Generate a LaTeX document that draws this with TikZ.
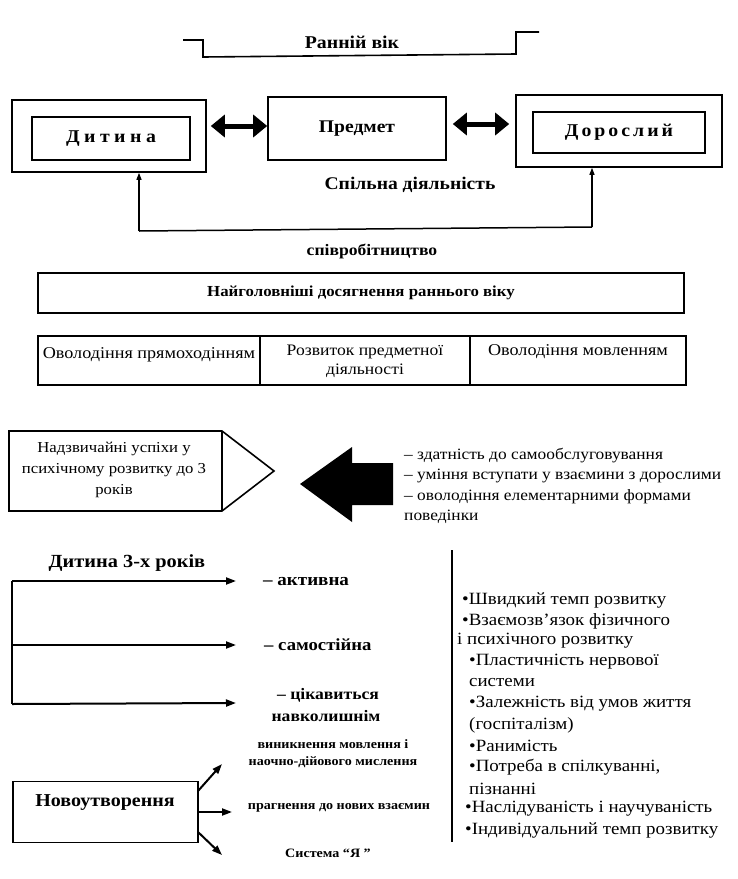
\documentclass[tikz,border=0pt]{standalone}
\usepackage{fontspec}
\setmainfont{Liberation Serif}[FakeStretch=1.1]
\usetikzlibrary{arrows.meta}
\newcommand{\ls}{\hspace{4.5pt}}
\newcommand{\lsb}{\hspace{3pt}}
\begin{document}
\begin{tikzpicture}[x=1pt,y=-1pt,
  box/.style={draw, line width=1.6pt, inner sep=0pt},
  bigarrow/.style={line width=5pt, {Triangle[length=14pt,width=22pt]}-{Triangle[length=14pt,width=22pt]}},
  thinarrow/.style={line width=1.3pt, -{Triangle[length=7pt,width=5pt]}},
  brarrow/.style={line width=2pt, -{Triangle[length=10pt,width=7pt]}},
  txt/.style={inner sep=0pt, align=center}]
\useasboundingbox (0,0) rectangle (738,879);

% bracket + title
\coordinate (b1) at (183,40);
\coordinate (b2) at (203,40);
\coordinate (b3) at (203,57);
\coordinate (b4) at (516,54);
\coordinate (b5) at (516,32);
\coordinate (b6) at (539,32);
\draw[line width=1.6pt] (b1) -- (b2) -- (b3) -- (b4) -- (b5) -- (b6);
\node[txt, font=\fontsize{18}{20}\selectfont\bfseries] (title) at (352,42) {Ранній вік};

% top row
\node[box, minimum width=194pt, minimum height=72pt] (ditout) at (109,136) {};
\node[box, minimum width=158pt, minimum height=43pt, font=\fontsize{18}{19}\selectfont\bfseries] (dit) at (111,138.5) {Д\ls и\ls т\ls и\ls н\ls а};
\node[box, minimum width=178pt, minimum height=63pt, font=\fontsize{17.8}{20}\selectfont\bfseries] (pred) at (357,128.5) {Предмет};
\node[box, minimum width=206pt, minimum height=72pt] (dorout) at (619,131) {};
\node[box, minimum width=172pt, minimum height=41pt, font=\fontsize{18}{19}\selectfont\bfseries] (dor) at (619,132.5) {Д\lsb о\lsb р\lsb о\lsb с\lsb л\lsb и\lsb й};
\draw[bigarrow, shorten <=4pt] (ditout.east |- 0,126) -- (pred.west |- 0,126);
\draw[bigarrow, shorten <=6pt, shorten >=6pt] (pred.east |- 0,124) -- (dorout.west |- 0,124);
\node[txt, font=\fontsize{17.8}{20}\selectfont\bfseries] (spil) at (410,185) {Спільна діяльність};

\coordinate (c1) at (139,231);
\coordinate (c2) at (592,227);
\draw[line width=1.5pt] (c1) -- (c2);
\draw[thinarrow] (c1) -- (c1 |- ditout.south);
\draw[thinarrow] (c2) -- (c2 |- dorout.south);
\node[txt, font=\fontsize{16}{18}\selectfont\bfseries] (spivr) at (372,251) {співробітництво};

% achievements
\node[box, minimum width=646pt, minimum height=40pt, font=\fontsize{15.3}{17}\selectfont\bfseries] (main) at (361,293) {Найголовніші досягнення раннього віку};
\node[box, minimum width=222pt, minimum height=49pt] (cell1) at (149,360.5) {};
\node[box, minimum width=210pt, minimum height=49pt] (cell2) at (365,360.5) {};
\node[box, minimum width=216pt, minimum height=49pt] (cell3) at (578,360.5) {};
\node[txt, font=\fontsize{16.5}{19}\selectfont] (t1) at (149,355) {Оволодіння прямоходінням};
\node[txt, font=\fontsize{16}{19}\selectfont] (t2) at (365,361) {Розвиток предметної\\діяльності};
\node[txt, font=\fontsize{16.5}{19}\selectfont] (t3) at (578,352) {Оволодіння мовленням};

% pentagon
\node[txt, font=\fontsize{15.2}{21}\selectfont] (pent) at (114,470) {Надзвичайні успіхи у\\психічному розвитку до 3\\років};
\draw[line width=1.6pt] (9,431) -- (222,431) -- (274,471) -- (222,511) -- (9,511) -- cycle;
\draw[line width=1.6pt] (222,431) -- (222,511);

% big black arrow
\node[txt, align=left, anchor=west, font=\fontsize{15.8}{20.3}\selectfont] (list) at (404,486) {– здатність до самообслуговування\\– уміння вступати у взаємини з дорослими\\– оволодіння елементарними формами\\поведінки};
\fill (300,484) -- (352,447) -- (352,463) -- (393,463) -- (393,505) -- (352,505) -- (352,522) -- cycle;

% child of 3 years
\node[txt, font=\fontsize{18.5}{20}\selectfont\bfseries] (d3) at (127,563) {Дитина 3-х років};
\coordinate (v1) at (12,581);
\coordinate (v2) at (12,645);
\coordinate (v3) at (12,704);
\draw[line width=2pt] (v1) -- (v3);
\node[txt, anchor=west, font=\fontsize{17.3}{18}\selectfont\bfseries] (akt) at (263,582) {– активна};
\node[txt, anchor=west, font=\fontsize{17}{18}\selectfont\bfseries] (sam) at (264,645) {– самостійна};
\node[txt, font=\fontsize{16}{22}\selectfont\bfseries] (cik) at (326,705) {\hspace*{4pt}– цікавиться\\навколишнім};
\draw[brarrow] (v1) -- (236,581);
\draw[brarrow] (v2) -- (236,645);
\draw[brarrow] (v3) -- (236,703);

% vertical separator
\coordinate (s1) at (452,550);
\coordinate (s2) at (452,842);
\draw[line width=2.5pt] (s1) -- (s2);

% right list
\begin{scope}[every node/.style={txt, anchor=west, font=\fontsize{17.2}{18}\selectfont}]
\node (r1) at (462,600) {•Швидкий темп розвитку};
\node (r2) at (462,621) {•Взаємозв’язок фізичного};
\node (r3) at (457,641) {і психічного розвитку};
\node (r4) at (469,662) {•Пластичність нервової};
\node (r5) at (469,683) {системи};
\node (r6) at (469,704) {•Залежність від умов життя};
\node (r7) at (469,725) {(госпіталізм)};
\node (r8) at (469,746) {•Ранимість};
\node (r9) at (469,767) {•Потреба в спілкуванні,};
\node (r10) at (469,789) {пізнанні};
\node (r11) at (465,809) {•Наслідуваність і научуваність};
\node (r12) at (465,830) {•Індивідуальний темп розвитку};
\end{scope}

% novoutvorennia
\node[box, minimum width=185pt, minimum height=61pt] (nov) at (105.5,812) {};
\node[txt, font=\fontsize{18.2}{21}\selectfont\bfseries] (novt) at (105,802) {Новоутворення};
\node[txt, font=\fontsize{12.8}{17}\selectfont\bfseries] (n1) at (333,753.5) {виникнення мовлення і\\наочно-дійового мислення};
\node[txt, font=\fontsize{12.8}{14}\selectfont\bfseries] (n2) at (339,808) {прагнення до нових взаємин};
\node[txt, font=\fontsize{12.8}{14}\selectfont\bfseries] (n3) at (328,853) {Система “Я ”};
\coordinate (a1) at (198,791);
\coordinate (a2) at (198,812);
\coordinate (a3) at (198,832);
\draw[brarrow] (a1) -- (222,764);
\draw[brarrow] (a2) -- (232,812);
\draw[brarrow] (a3) -- (222,855);
\end{tikzpicture}
\end{document}
